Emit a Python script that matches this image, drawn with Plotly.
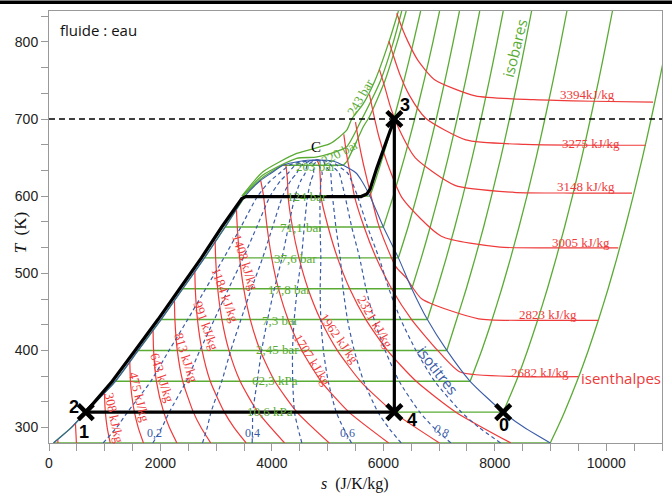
import plotly.graph_objects as go

GREEN = '#5aab34'
RED = '#ee3a3a'
BLUE = '#3a5ca8'

# saturation dome: T in K, s in J/K/kg
T_DOME = [280, 300, 320, 360, 400, 440, 480, 520, 560, 600, 620, 630, 640, 645, 646.8]
S_LIQ = [80, 400, 660, 1190, 1600, 2010, 2400, 2790, 3160, 3519, 3790, 3990, 4200, 4480, 4790]
S_VAP = [8995, 8530, 8150, 7557, 7139, 6790, 6510, 6270, 6000, 5760, 5610, 5510, 5280, 5120, 4790]

# quality levels of the isotitres
QUALITIES = [0.1, 0.2, 0.3, 0.4, 0.5, 0.6, 0.7, 0.8, 0.9]

# isobars: saturation temperatures and superheated branches
ISOBAR_TSAT = [280, 320, 360, 400, 440, 480, 520, 560, 600, 640]
ISO_T = {
    '0,99 kPa': [280, 300, 320, 360, 400, 440, 480, 520, 560, 600, 650, 700, 750, 800],
    '10,6 kPa': [320, 360, 400, 440, 480, 520, 560, 600, 650, 700, 750, 800, 840],
    '62,3 kPa': [360, 400, 440, 480, 520, 560, 600, 650, 700, 750, 800, 840],
    '2,45 bar': [400, 440, 480, 520, 560, 600, 650, 700, 750, 800, 840],
    '7,3 bar': [440, 480, 520, 560, 600, 650, 700, 750, 800, 840],
    '17,8 bar': [480, 520, 560, 600, 650, 700, 750, 800, 840],
    '37,6 bar': [520, 560, 600, 650, 700, 750, 800, 840],
    '71,1 bar': [560, 600, 650, 700, 750, 800, 840],
    '124 bar': [600, 620, 650, 700, 750, 800, 840],
    '203 bar': [640, 644.6, 668, 690, 703, 750, 800, 840],
}
ISO_S = {
    '0,99 kPa': [8995, 9126, 9249, 9474, 9677, 9862, 10033, 10192, 10342, 10483, 10649, 10805, 10953, 11093],
    '10,6 kPa': [8150, 8384, 8587, 8772, 8943, 9102, 9252, 9393, 9559, 9715, 9863, 10003, 10111],
    '62,3 kPa': [7557, 7765, 7952, 8124, 8284, 8434, 8576, 8742, 8898, 9046, 9186, 9294],
    '2,45 bar': [7139, 7315, 7488, 7648, 7799, 7940, 8107, 8263, 8412, 8552, 8660],
    '7,3 bar': [6790, 6965, 7129, 7282, 7426, 7594, 7752, 7901, 8042, 8151],
    '17,8 bar': [6510, 6681, 6840, 6989, 7162, 7323, 7476, 7619, 7729],
    '37,6 bar': [6270, 6443, 6600, 6781, 6949, 7106, 7253, 7366],
    '71,1 bar': [6000, 6177, 6378, 6562, 6732, 6890, 7009],
    '124 bar': [5760, 5855, 5986, 6188, 6371, 6541, 6669],
    '203 bar': [5280, 5342, 5500, 5640, 5750, 6030, 6250, 6410],
}
# near-critical isobars (liquid branch + over the dome)
P203_LIQ_T = [600, 624.4, 640]
P203_LIQ_S = [3480, 3839, 4180]
P220_T = [600, 627.3, 649, 650.5, 655, 664, 698, 750, 800, 840]
P220_S = [3470, 3839, 4444, 4790, 5042, 5342, 5600, 5950, 6180, 6330]
P243_T = [600, 631.6, 655.4, 668, 685.6, 700, 720, 750, 800, 840]
P243_S = [3460, 3839, 4444, 5042, 5342, 5432, 5640, 5850, 6100, 6270]

# isenthalpes (kJ/kg) inside the dome
H_DOME = {
    45: ([283.75, 280], [158, 160]),
    138: ([306.1, 300, 280], [475, 478, 492]),
    308: ([346.7, 340, 320, 300, 280], [994, 997, 1011, 1044, 1099]),
    475: ([386.4, 380, 360, 340, 320, 300, 280], [1449, 1452, 1461, 1488, 1533, 1601, 1695]),
    643: ([425.6, 420, 400, 360, 320, 300, 280], [1868, 1869, 1877, 1927, 2058, 2161, 2295]),
    813: ([464.4, 440, 400, 360, 320, 300, 280], [2251, 2259, 2302, 2400, 2590, 2728, 2903]),
    991: ([503.3, 480, 440, 400, 360, 320, 300, 280], [2617, 2625, 2664, 2747, 2894, 3146, 3321, 3538]),
    1184: ([543.1, 520, 480, 440, 400, 360, 320, 280], [2981, 2990, 3027, 3103, 3229, 3430, 3749, 4228]),
    1408: ([584.8, 560, 520, 480, 440, 400, 360, 320, 280], [3362, 3379, 3421, 3494, 3612, 3789, 4052, 4449, 5028]),
    1707: ([620, 600, 560, 520, 480, 440, 400, 360, 320, 280], [3800, 3850, 3913, 3996, 4117, 4291, 4537, 4883, 5383, 6095]),
    1962: ([641, 620, 600, 560, 520, 480, 440, 400, 360, 320, 280], [4250, 4280, 4290, 4368, 4486, 4648, 4871, 5174, 5591, 6180, 7006]),
    2321: ([648, 640, 620, 600, 560, 520, 480, 440, 400, 360, 320, 280],
           [4800, 4850, 4870, 4879, 5009, 5177, 5396, 5687, 6072, 6589, 7302, 8288]),
}
# isenthalpes in the vapour region (up to about 250 bar)
H_VAP = {
    2682: ([366, 366, 372, 400, 440, 480, 520, 560, 600, 620, 650, 680],
           [9495, 8432, 7376, 6974, 6507, 6148, 5871, 5654, 5481, 5430, 5350, 5290]),
    2823: ([439, 439, 441, 467, 494, 509, 541, 566, 600, 642, 670, 696],
           [9857, 8770, 7710, 6685, 6410, 6220, 6025, 5900, 5780, 5640, 5560, 5500]),
    3005: ([533, 533, 534, 548, 597, 643, 677, 708, 732],
           [10216, 9150, 8095, 7040, 6343, 6070, 5920, 5820, 5750]),
    3148: ([604, 604, 605, 614, 650, 686, 715, 743, 764],
           [10462, 9400, 8340, 7285, 6570, 6287, 6130, 6020, 5930]),
    3275: ([666, 666, 667, 673, 701, 731, 757, 780, 801],
           [10706, 9600, 8540, 7480, 6760, 6465, 6300, 6190, 6100]),
    3394: ([722, 723, 725, 730, 751, 776, 799, 818, 837],
           [10840, 9766, 8700, 7650, 6920, 6620, 6450, 6335, 6240]),
}

# Rankine cycle path
CYCLE_S = [660, 1135, 1545, 1955, 2345, 2735, 3100, 3380, 3460, 3530, 5600, 5703, 5761, 5881, 6030, 6197, 6197, 660]
CYCLE_T = [320, 360, 400, 440, 480, 520, 560, 590, 597, 599.5, 599.5, 602.7, 609, 636, 666, 700, 320, 320]
POINT_S = [660, 6197, 6197, 8150]
POINT_T = [320, 700, 320, 320]

fig = go.Figure()


def add_line(s, T, color, width=1.2, dash=None, shape='spline', smoothing=0.6):
    fig.add_trace(go.Scatter(x=s, y=T, mode='lines',
                             line=dict(color=color, width=width, dash=dash, shape=shape,
                                       smoothing=smoothing if shape == 'spline' else None),
                             hoverinfo='skip', showlegend=False))


# isobars (green)
add_line(S_LIQ[:10], T_DOME[:10], GREEN, 1.4)
for T in ISOBAR_TSAT:
    i = T_DOME.index(T)
    add_line([S_LIQ[i], S_VAP[i]], [T, T], GREEN, 1.4, shape='linear')
for name in ISO_T:
    add_line(ISO_S[name], ISO_T[name], GREEN, 1.3)
add_line(P203_LIQ_S, P203_LIQ_T, GREEN, 1.3)
add_line(P220_S, P220_T, GREEN, 1.3)
add_line(P243_S, P243_T, GREEN, 1.3)

# isenthalpes (red)
for h, (T, s) in H_DOME.items():
    add_line(s, T, RED, 1.2)
for h, (T, s) in H_VAP.items():
    add_line(s, T, RED, 1.2)

# isotitres (blue dashed) from dome
for q in QUALITIES:
    s_q = [a + q * (b - a) for a, b in zip(S_LIQ, S_VAP)]
    add_line(s_q, T_DOME, BLUE, 1.2, dash='4px,3px')

# saturation dome (blue)
add_line(S_LIQ + S_VAP[::-1][1:], T_DOME + T_DOME[::-1][1:], BLUE, 1.1)

# 700 K dashed line
fig.add_hline(y=700, line=dict(color='black', width=1.4, dash='6px,4px'))

# cycle
add_line(CYCLE_S, CYCLE_T, 'black', 3.2, shape='linear')
fig.add_trace(go.Scatter(x=POINT_S, y=POINT_T, mode='markers',
                         marker=dict(symbol='x-thin', size=15, line=dict(width=4.5, color='black')),
                         hoverinfo='skip', showlegend=False))

SERIF = 'Liberation Serif, Times New Roman, serif'
SANS = 'Open Sans, Noto Sans, sans-serif'
ARIAL = 'Liberation Sans, Arial, sans-serif'


def ann(x, y, text, color, size=13, angle=0, family=SERIF, xanchor='center', bold=False, ref='data'):
    kw = {}
    if ref == 'paper':
        kw = dict(xref='paper', yref='paper')
    fig.add_annotation(x=x, y=y, text=('<b>%s</b>' % text) if bold else text, showarrow=False,
                       textangle=angle, xanchor=xanchor, yanchor='middle',
                       font=dict(family=family, size=size, color=color), **kw)


# isobar labels
ISOBAR_LABELS = [('10,6 kPa', 3960, 320.2, 0), ('62,3 kPa', 4050, 360.4, 0), ('2,45 bar', 4104, 400.6, 0),
                 ('7,3 bar', 4158, 439.4, 0), ('17,8 bar', 4319, 479.6, 0), ('37,6 bar', 4427, 519.8, 0),
                 ('71,1 bar', 4535, 560, 0), ('124 bar', 4624, 598.9, 0), ('203 bar', 4786, 638, 0),
                 ('220 bar', 5217, 657, -28), ('243 bar', 5576, 728.5, -60)]
for t, x, y, a in ISOBAR_LABELS:
    ann(x, y, t, GREEN, 13, a)
ann(8357, 792, 'isobares', GREEN, 15, -76, SANS)

ENTH_LABELS = [('3394kJ/kg', 9667, 732.4, 0), ('3275 kJ/kg', 9721, 667.6, 0), ('3148 kJ/kg', 9631, 611.9, 0),
               ('3005 kJ/kg', 9541, 539.3, 0), ('2823 kJ/kg', 8949, 447.2, 0), ('2682 kJ/kg', 8805, 372.0, 0),
               ('308 kJ/kg', 1180, 312.4, 78), ('475 kJ/kg', 1628, 339.6, 76), ('643 kJ/kg', 2023, 364.3, 72),
               ('813 kJ/kg', 2453, 390.2, 72), ('991 kJ/kg', 2812, 431.7, 70), ('1184 kJ/kg', 3171, 471.8, 70),
               ('1408 kJ/kg', 3530, 514.6, 72), ('1707 kJ/kg', 4714, 387.6, 58), ('1962 kJ/kg', 5216, 416.1, 55),
               ('2321 kJ/kg', 5845, 436.9, 60)]
for t, x, y, a in ENTH_LABELS:
    ann(x, y, t, RED, 13, a)
ann(10259, 364.3, 'isenthalpes', RED, 15, 0, SANS)

for t, x, y, a in [('0,2', 1897, 293, 0), ('0,4', 3656, 293, 0), ('0,6', 5361, 293, 0), ('0,8', 7047, 295.6, 25)]:
    ann(x, y, t, BLUE, 12, a)
ann(6975, 374.6, 'isotitres', BLUE, 15, 52, SANS)

ann(4786, 663.7, 'C', 'black', 15)
ann(156, 815.4, 'fluide : eau', '#111', 15, 0, SANS, xanchor='left')
for t, x, y in [('1', 623, 294.3), ('2', 443, 326.7), ('3', 6383, 718.1), ('4', 6508, 309.8), ('0', 8159, 303.3)]:
    ann(x, y, t, 'black', 18, 0, ARIAL, bold=True)

# axis titles
ann(-0.047, 0.488, '<i>T</i>  (K)', '#111', 17, -90, SERIF, ref='paper')
ann(0.499, -0.094, '<i>s</i>  (J/K/kg)', '#111', 16, 0, SERIF, ref='paper')

# black bar at top of image
fig.add_shape(type='rect', xref='paper', yref='paper', x0=-0.1, x1=1.1, y0=1.0162, y1=1.0245,
              fillcolor='black', line=dict(width=0), layer='above')

TICKFONT = dict(family=ARIAL, size=14, color='#222')
XTICKS = [0, 2000, 4000, 6000, 8000, 10000]
fig.update_layout(
    width=672, height=495,
    margin=dict(l=49, r=10, t=11, b=52, autoexpand=False),
    paper_bgcolor='white', plot_bgcolor='white',
    xaxis=dict(range=[0, 11000], tickvals=XTICKS, ticktext=[str(v) for v in XTICKS],
               showgrid=False, zeroline=False, automargin=False,
               showline=True, mirror=True, linecolor='#999', linewidth=1,
               ticks='outside', ticklen=7, tickcolor='#999', tickfont=TICKFONT,
               minor=dict(dtick=500, ticks='outside', ticklen=7, tickcolor='#999')),
    yaxis=dict(range=[280, 840], dtick=100, tick0=0, showgrid=False, zeroline=False, automargin=False,
               showline=True, mirror=True, linecolor='#999', linewidth=1,
               ticks='outside', ticklen=7, tickcolor='#999', tickfont=TICKFONT,
               minor=dict(dtick=100 / 3, tick0=0, ticks='outside', ticklen=7, tickcolor='#999')),
)

fig.write_html('out.html', config={'displayModeBar': False},
               post_script="document.body.style.margin='0';document.body.style.padding='0';")
